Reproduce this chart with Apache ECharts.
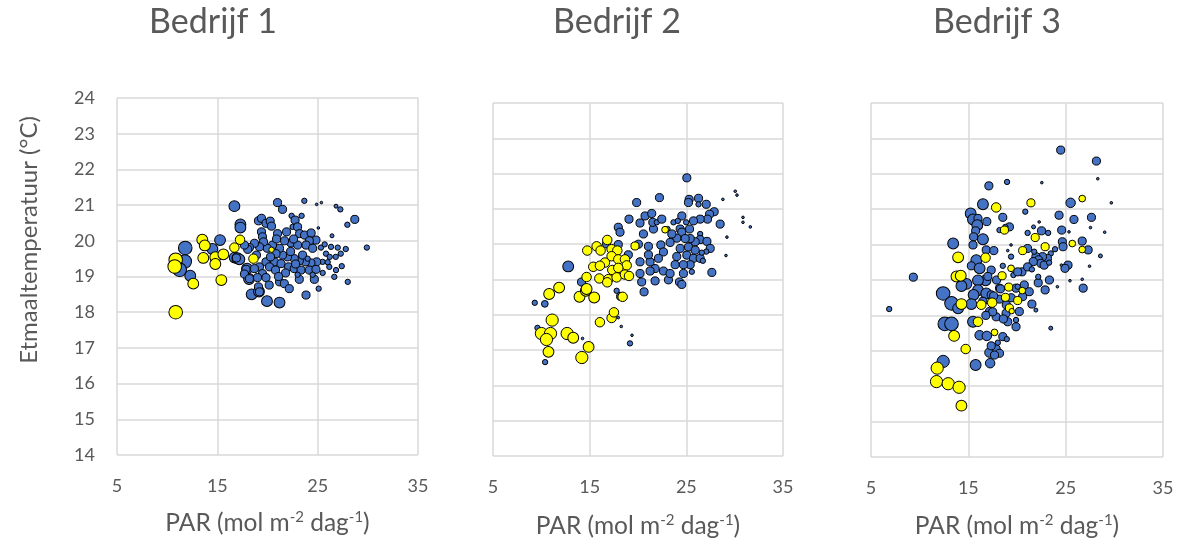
<!DOCTYPE html>
<html>
<head>
<meta charset="utf-8">
<script src="https://cdn.jsdelivr.net/npm/echarts@6/dist/echarts.min.js"></script>
<style>
  html, body { margin: 0; padding: 0; background: #fff; }
  #chart { width: 1190px; height: 544px; }
</style>
</head>
<body>
<div id="chart"></div>
<script>
// [PAR, temperatuur, bubbelgrootte]
const bedrijf1Blauw = [
  [11.8,19.8,5],[11.75,19.42,5],[11.25,19.19,5],[12.3,19.02,4],[14.5,19.77,4],[15.27,20.02,4],
  [16.7,20.97,4],[17.3,20.46,4],[17.3,20.37,4],[16.73,19.53,4],[17.0,19.51,4],[17.2,19.48,4],
  [16.9,19.52,3],[17.96,19.22,4],[18.16,18.93,4],[18.42,18.5,4],[19.15,18.58,4],[19.95,18.31,4],
  [21.2,18.27,4],[21.0,21.07,3],[21.5,20.88,3],[23.67,21.12,2],[24.9,21.02,1],[25.37,21.07,1],
  [26.83,20.97,1.5],[27.26,20.88,2],[28.7,20.6,3],[27.96,20.45,2],[26.43,20.14,1.5],[25.07,20.36,1],
  [19.1,20.56,3],[19.4,20.63,3],[19.85,20.49,3],[20.27,20.55,3],[20.4,20.41,3],[19.4,20.25,3],
  [19.5,20.11,3],[21.0,20.2,3],[21.9,20.25,3],[22.4,20.7,2],[22.75,20.58,3],[23.4,20.7,2],
  [22.5,20.39,2],[23.0,20.39,3],[23.2,20.2,3],[23.7,20.16,3],[24.35,20.22,3],[24.83,20.02,3],
  [24.17,20.0,3],[22.34,19.94,3],[23.0,19.88,3],[23.84,19.88,3],[24.5,19.79,3],[25.33,19.81,2],
  [26.33,19.83,2],[27.0,19.81,2],[27.8,19.77,2],[29.9,19.81,2],[27.3,19.64,2],[25.83,19.64,2],
  [26.2,19.55,2],[25.5,19.41,2],[24.9,19.41,3],[24.33,19.38,3],[23.77,19.41,3],[23.17,19.44,3],
  [22.67,19.5,3],[22.0,19.55,3],[21.5,19.6,3],[21.2,19.79,3],[20.85,19.64,3],[20.5,19.88,3],
  [19.98,19.79,3],[19.6,19.97,3],[19.2,19.83,3],[18.7,19.93,3],[18.2,19.81,3],[18.03,19.76,3],
  [17.7,19.88,3],[19.85,19.41,3],[20.7,19.41,3],[21.35,19.36,3],[20.2,19.27,3],[19.2,19.27,3],
  [18.7,19.22,3],[17.86,19.2,3],[17.7,19.07,3],[19.5,19.08,3],[20.8,19.18,3],[22.1,19.27,3],
  [22.67,19.22,3],[23.34,19.18,3],[24.17,19.18,3],[24.83,19.2,3],[26.16,19.27,2],[26.83,19.18,2],
  [27.4,19.29,2],[26.66,18.99,2],[28.0,18.85,2],[18.2,18.94,3],[19.0,18.97,3],[19.85,18.97,3],
  [21.2,18.85,3],[21.68,18.8,3],[23.17,18.92,3],[24.67,18.92,3],[19.1,18.71,3],[20.17,18.76,3],
  [22.17,18.66,3],[25.1,18.66,2],[19.2,18.57,3],[23.84,18.48,3],
  [22.3,19.7,3],[23.5,19.6,3],[24.0,19.5,2],[22.8,19.35,3],[21.8,19.1,3],[23.0,19.05,2],
  [24.5,19.05,2],[25.5,19.1,2],[26.0,19.4,2],[21.1,19.0,3],[20.3,19.55,3],[18.9,19.6,3],
  [22.6,20.05,3],[21.7,20.0,3],[20.9,20.05,3],[25.7,19.9,2],[26.8,19.55,2]
];
const bedrijf1Geel = [
  [10.85,18.0,5],[10.85,19.47,5],[10.75,19.28,5],[12.6,18.8,4],[13.5,20.03,4],[13.75,19.87,4],
  [13.6,19.52,4],[14.8,19.54,4],[14.8,19.35,4],[15.6,19.62,4],[15.4,18.9,4],[16.7,19.81,3.5],
  [17.26,20.03,3.5],[18.6,19.5,3.5],[20.4,19.75,2]
];

const bedrijf2Blauw = [
  [12.78,19.37,4],[9.32,18.34,2],[10.36,18.31,2.5],[9.6,17.63,2],[10.39,16.66,2],[14.26,17.33,1],
  [19.38,17.42,1],[19.17,17.19,2],[18.27,17.67,1],[17.96,17.92,1],
  [19.07,20.71,3],[17.96,20.48,3],[18.14,20.34,3],[19.0,19.7,3],[18.2,18.52,3],[17.79,18.68,2],
  [14.16,18.93,3],[17.96,19.99,3],[16.75,20.01,3],
  [25.05,21.88,3],[22.22,21.32,3],[19.86,21.18,3],[25.29,21.27,3],[26.26,21.3,3],[25.22,21.18,3],
  [27.06,21.13,3],[26.26,21.13,2],[28.78,21.27,1],[30.06,21.5,1],[30.24,21.39,1],[30.86,20.76,1],
  [30.86,20.62,1],[31.62,20.49,1],[29.2,20.2,1],[29.1,19.68,1],[27.64,19.2,3],[28.5,20.57,3],
  [27.88,20.92,3],[27.4,20.85,3],[27.19,20.71,3],[26.43,20.71,3],[25.74,20.66,3],[24.53,20.8,3],
  [23.67,20.62,2],[24.12,20.66,2],[24.98,20.62,2],[26.43,20.29,2],[24.36,20.43,3],[25.33,20.43,3],
  [24.53,20.34,3],[26.43,20.13,3],[27.13,20.08,3],[27.47,19.88,3],[27.06,19.79,2],[25.92,20.07,3],
  [25.4,20.16,3],[24.88,20.16,3],[24.01,20.17,3],[23.32,20.05,3],[22.36,19.98,3],[21.08,19.94,3],
  [20.04,20.0,3],[20.56,20.29,3],[21.6,20.43,3],[21.53,20.62,3],[21.94,20.62,2],[20.73,20.8,3],
  [21.42,20.87,3],[20.21,20.6,3],[22.46,20.71,3],[23.05,20.43,2],[23.5,20.29,3],[24.36,19.88,3],
  [25.22,19.92,3],[25.92,19.83,3],[25.05,19.69,3],[25.74,19.6,3],[26.43,19.6,3],[26.71,19.53,2],
  [25.4,19.42,3],[24.7,19.42,3],[24.01,19.65,3],[23.84,19.42,3],[22.63,19.24,3],[21.77,19.31,3],
  [21.25,19.5,3],[20.21,19.5,3],[20.21,19.17,3],[21.25,19.24,3],[20.38,18.93,3],[21.77,18.96,3],
  [23.15,18.99,3],[23.32,19.17,3],[24.29,18.93,3],[24.53,18.86,3],[20.63,18.65,3],[22.63,19.78,3],
  [22.11,19.6,3],[21.08,19.7,3],[24.7,19.17,3],[25.57,19.22,2],[26.6,19.76,2]
];
const bedrijf2Geel = [
  [11.84,18.77,4],[10.81,18.59,4],[13.95,18.51,4],[14.61,18.68,4],[15.47,18.49,4],[11.12,17.85,4.5],
  [10.01,17.47,4.5],[10.95,17.47,4.5],[10.53,17.3,4.5],[12.67,17.47,4.5],[13.3,17.35,4],
  [10.74,16.95,4],[14.89,17.09,4],[14.19,16.79,4.5],[16.06,17.79,3.5],[17.27,17.91,3.5],[17.51,18.07,3.5],
  [16.82,20.12,3.5],[14.75,19.82,3.5],[15.72,19.94,3.5],[16.13,19.82,3.5],[17.27,19.86,3.5],
  [17.86,19.82,3.5],[17.27,19.66,3.5],[16.58,19.48,3.5],[17.96,19.57,3.5],[18.65,19.57,3.5],
  [18.83,19.4,3.5],[15.37,19.36,3.5],[16.06,19.39,3.5],[17.34,19.27,3.5],[17.96,19.33,3.5],
  [16.0,19.03,3.5],[16.93,19.01,3.5],[17.79,19.06,3.5],[18.65,19.14,3.5],[19.07,19.1,3.5],
  [14.68,19.07,3.5],[16.82,18.92,3.5],[14.68,18.73,4],[18.41,18.51,3.5],[19.69,19.95,3],[22.8,20.41,2.5]
];

const bedrijf3Blauw = [
  [17.11,21.66,3],[18.98,21.77,2],[16.5,21.14,4],[15.24,20.88,4],[15.48,20.71,4],[15.99,20.74,3],
  [15.92,20.55,4],[16.9,20.65,3],[18.54,20.77,3],[19.22,20.5,3],[18.2,20.41,2],[15.75,20.39,3],
  [15.54,20.22,3],[16.5,20.15,4],[13.44,20.03,4],[15.48,19.99,3],[16.84,19.85,3],[17.62,19.83,3],
  [15.82,19.56,4],[15.31,19.4,3],[16.16,19.33,4],[17.35,19.28,3],[16.77,18.99,4],[15.99,18.99,4],
  [14.8,18.89,4],[14.29,18.83,4],[15.99,18.71,4],[15.54,18.58,4],[16.84,18.62,4],[12.41,18.62,5],
  [13.27,18.34,5],[13.95,18.2,4],[15.31,18.32,4],[17.35,18.58,3],[18.2,18.46,3],[9.35,19.08,3],
  [6.87,18.18,2],[12.58,17.76,5],[13.27,17.76,5],[15.48,17.82,4],[19.39,19.99,1],[19.39,19.66,2],
  [18.54,19.4,2],[19.63,19.14,2],[18.8,20.5,2],[19.05,19.83,1],[18.2,18.77,3],[19.9,18.77,3],
  [17.18,18.11,3],[18.88,18.06,3],[17.86,17.96,3],[19.9,17.68,3],[19.05,17.82,3],
  [24.49,22.67,3],[28.16,22.36,3],[28.3,21.86,1],[22.55,21.75,1],[25.51,21.18,3.5],[29.69,21.18,1],
  [20.85,20.93,2],[24.32,20.83,3],[25.85,20.71,3],[27.65,20.77,3],[27.55,20.48,1],[29.01,20.35,1],
  [22.28,20.64,1],[21.7,20.5,1.5],[22.52,20.39,3],[23.2,20.33,2],[21.09,20.33,2],[24.59,20.41,3],
  [25.34,20.36,1],[24.66,20.08,3],[24.73,19.94,3],[26.7,20.1,3],[27.31,19.85,3],[28.57,19.68,1.5],
  [23.91,19.87,2],[23.47,19.75,2],[23.13,19.61,3],[22.62,19.66,3],[21.94,19.66,3],[21.77,19.8,2],
  [22.21,19.57,3],[22.45,19.47,3],[22.79,19.42,3],[23.3,19.49,2],[21.67,19.52,3],[21.09,19.89,3],
  [25.24,19.42,3],[24.93,19.33,3],[24.56,19.42,1],[27.45,19.39,1],[20.51,19.23,3],[21.09,19.37,3],
  [21.53,19.3,2],
  [12.42,16.7,4.5],[15.75,16.6,4],[17.24,16.65,3.5],[17.17,16.95,3.5],[17.86,17.05,3],[18.2,16.93,3],
  [17.69,16.88,3],[17.35,17.14,3],[18.03,17.23,2],[16.16,17.44,3.5],[16.9,17.42,3.5],[18.54,17.4,3],
  [18.95,17.33,2],
  [23.33,19.0,3],[22.18,18.92,3],[22.89,18.72,3],[24.15,18.81,1],[25.44,18.98,1],[26.7,19.02,1],
  [26.8,18.77,3],[23.47,17.64,1.5],[21.26,18.67,3],[21.53,18.32,3],[21.94,18.15,1.5],[20.58,18.53,3],
  [20.75,18.86,3],[20.24,18.11,3],[19.9,17.87,2],[22.18,19.09,2],[20.07,19.23,3],[20.07,18.81,2],
  [17.0,19.1,3],[17.9,19.0,3],[18.3,18.75,3],[17.6,18.55,3],[18.9,18.3,3],[19.4,18.5,3],
  [17.5,18.1,3],[18.6,17.9,3],[16.5,18.4,3],[16.8,18.0,3]
];
const bedrijf3Geel = [
  [17.86,21.05,3.5],[18.71,20.41,3],[13.95,19.64,4],[16.77,19.63,3.5],[13.78,19.1,4],[14.22,19.12,4],
  [18.47,19.12,3],[19.15,18.8,3],[18.81,18.51,3],[14.29,18.32,4],[16.33,18.3,3.5],[17.45,18.36,3.5],
  [19.22,18.21,3],[15.99,17.82,3.5],[21.43,21.18,3],[26.7,21.3,2.5],[21.87,20.2,3],[22.89,19.94,3],
  [20.58,19.83,3],[25.68,20.03,2.5],[26.7,19.86,2.5],[19.39,19.33,2.5],
  [13.54,17.42,4],[14.73,17.05,3.5],[11.8,16.51,4.5],[11.73,16.13,4.5],[12.93,16.07,4.5],
  [14.05,15.97,4.5],[14.29,15.45,4],[17.69,17.52,2.5],[20.54,18.7,2.5],[20.07,18.42,3],[19.46,18.12,2]
];

const xTicks = { min: 5, max: 35, interval: 10 };
const yTicks = { min: 14, max: 24, interval: 1 };

const FONT = 'Lato';
const GREY = '#595959';
const GRIDLINE = '#d9d9d9';

const panels = [
  { title: 'Bedrijf 1', blue: bedrijf1Blauw, yellow: bedrijf1Geel,
    grid: { left: 117, top: 98, width: 301, height: 357 }, titleX: 208, nameGap: 55, yLabels: true },
  { title: 'Bedrijf 2', blue: bedrijf2Blauw, yellow: bedrijf2Geel,
    grid: { left: 493, top: 103, width: 290, height: 356 }, titleX: 612, nameGap: 57, yLabels: false },
  { title: 'Bedrijf 3', blue: bedrijf3Blauw, yellow: bedrijf3Geel,
    grid: { left: 871, top: 103, width: 292, height: 354 }, titleX: 992, nameGap: 56, yLabels: false }
];

const bubbleSize = (d) => 2.6 + (d[2] - 1) * 2.75;

const chart = echarts.init(document.getElementById('chart'));

const option = {
  backgroundColor: '#fff',
  animation: false,
  title: panels.map(p => ({
    text: p.title,
    left: p.titleX,
    top: 0,
    textAlign: 'center',
    textStyle: { fontFamily: FONT, fontSize: 34, fontWeight: 'normal', color: GREY }
  })),
  grid: panels.map(p => Object.assign({ containLabel: false }, p.grid)),
  xAxis: panels.map((p, i) => ({
    type: 'value',
    gridIndex: i,
    min: xTicks.min, max: xTicks.max, interval: xTicks.interval,
    axisLine: { show: false },
    axisTick: { show: false },
    axisLabel: { color: GREY, fontFamily: FONT, fontSize: 18, margin: 22 },
    splitLine: { show: true, lineStyle: { color: GRIDLINE, width: 1.5 } },
    name: '{n|PAR (mol m}{s|-2}{n| dag}{s|-1}{n|)}',
    nameLocation: 'middle',
    nameGap: p.nameGap,
    nameTextStyle: {
      fontFamily: FONT, fontSize: 24.5, color: GREY,
      rich: {
        n: { fontFamily: FONT, fontSize: 24.5, color: GREY, lineHeight: 27 },
        s: { fontFamily: FONT, fontSize: 15, color: GREY, lineHeight: 27, verticalAlign: 'top' }
      }
    }
  })),
  yAxis: panels.map((p, i) => ({
    type: 'value',
    gridIndex: i,
    min: yTicks.min, max: yTicks.max, interval: yTicks.interval,
    axisLine: { show: false },
    axisTick: { show: false },
    axisLabel: { show: p.yLabels, color: GREY, fontFamily: FONT, fontSize: 18, margin: 22 },
    splitLine: { show: true, lineStyle: { color: GRIDLINE, width: 1.5 } }
  })),
  graphic: [{
    type: 'text',
    x: 29,
    y: 240,
    rotation: Math.PI / 2,
    style: {
      text: 'Etmaaltemperatuur (°C)',
      fill: GREY,
      font: '24px ' + FONT,
      align: 'center',
      verticalAlign: 'middle'
    }
  }],
  series: []
};

panels.forEach((p, i) => {
  option.series.push({
    type: 'scatter', xAxisIndex: i, yAxisIndex: i,
    data: p.blue, symbolSize: bubbleSize,
    itemStyle: { color: '#4472C4', borderColor: '#000', borderWidth: 1, opacity: 1 }
  });
  option.series.push({
    type: 'scatter', xAxisIndex: i, yAxisIndex: i,
    data: p.yellow, symbolSize: bubbleSize,
    itemStyle: { color: '#FFFF00', borderColor: '#000', borderWidth: 1, opacity: 1 }
  });
});

chart.setOption(option);
</script>
</body>
</html>
